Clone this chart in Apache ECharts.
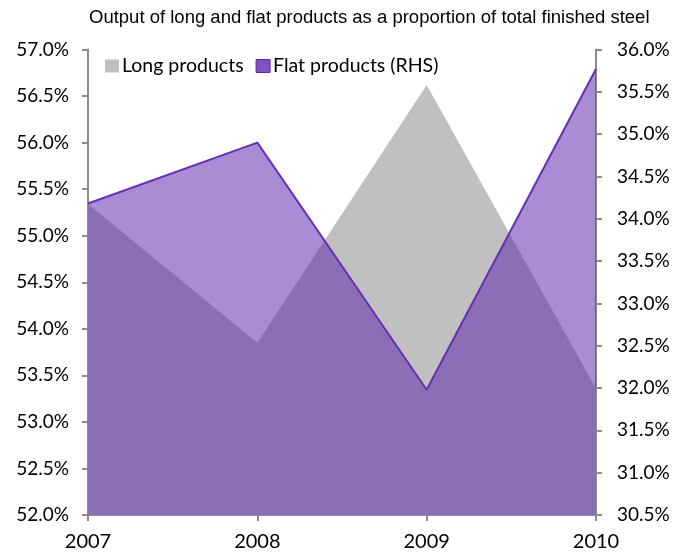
<!DOCTYPE html>
<html>
<head>
<meta charset="utf-8">
<script src="https://cdn.jsdelivr.net/npm/echarts@6/dist/echarts.min.js"></script>
<style>
  html, body { margin: 0; padding: 0; background: #fff; }
  #chart { width: 687px; height: 558px; }
</style>
</head>
<body>
<div id="chart"></div>
<script>
// Share of finished steel output, by product type
const years = ['2007', '2008', '2009', '2010'];
const longProducts = [55.34, 53.85, 56.62, 53.36];   // % of total, left axis
const flatProducts = [34.18, 34.90, 31.98, 35.77];   // % of total, right axis (RHS)
const leftTicks = { min: 52.0, max: 57.0, step: 0.5 };
const rightTicks = { min: 30.5, max: 36.0, step: 0.5 };

const labelFont = 'Lato, "Open Sans", sans-serif';
const axisGrey = '#8c8c8c';
const pct = v => v.toFixed(1) + '%';

const chart = echarts.init(document.getElementById('chart'), null, { renderer: 'canvas' });
chart.setOption({
  animation: false,
  backgroundColor: '#ffffff',
  title: {
    text: 'Output of long and flat products as a proportion of total finished steel',
    left: 84,
    top: 3,
    textStyle: { fontFamily: '"Liberation Sans", Arial, sans-serif', fontSize: 18.5, fontWeight: 'normal', color: '#000' }
  },
  legend: {
    left: 100,
    top: 51,
    itemWidth: 14,
    itemHeight: 13,
    itemGap: 12,
    icon: 'rect',
    textStyle: { fontFamily: labelFont, fontSize: 19.5, color: '#000', padding: [0, 0, 0, -2] },
    data: [
      { name: 'Long products', itemStyle: { color: '#c0c0c0' } },
      { name: 'Flat products (RHS)', itemStyle: { color: '#7d52c2', borderColor: '#5a2aa8', borderWidth: 1 } }
    ]
  },
  grid: { left: 88, right: 91, top: 49.5, bottom: 43 },
  xAxis: {
    type: 'category',
    data: years,
    boundaryGap: false,
    axisLine: { lineStyle: { color: axisGrey, width: 2 } },
    axisTick: { alignWithLabel: true, length: 6, lineStyle: { color: axisGrey, width: 2 } },
    axisLabel: { fontFamily: labelFont, fontSize: 20, color: '#000', margin: 17 },
    splitLine: { show: false }
  },
  yAxis: [
    {
      type: 'value',
      position: 'left',
      min: leftTicks.min,
      max: leftTicks.max,
      interval: leftTicks.step,
      axisLine: { show: true, lineStyle: { color: axisGrey, width: 2 } },
      axisTick: { show: true, length: 6, lineStyle: { color: axisGrey, width: 2 } },
      axisLabel: { formatter: pct, fontFamily: labelFont, fontSize: 19, color: '#000', margin: 19 },
      splitLine: { show: false }
    },
    {
      type: 'value',
      position: 'right',
      min: rightTicks.min,
      max: rightTicks.max,
      interval: rightTicks.step,
      axisLine: { show: true, lineStyle: { color: axisGrey, width: 2 } },
      axisTick: { show: true, length: 6, lineStyle: { color: axisGrey, width: 2 } },
      axisLabel: { formatter: pct, fontFamily: labelFont, fontSize: 19, color: '#000', margin: 21 },
      splitLine: { show: false }
    }
  ],
  series: [
    {
      name: 'Long products',
      type: 'line',
      yAxisIndex: 0,
      data: longProducts,
      showSymbol: false,
      lineStyle: { width: 0, color: '#c0c0c0' },
      itemStyle: { color: '#c0c0c0' },
      areaStyle: { color: '#c0c0c0', opacity: 1, origin: 'start' },
      z: 1
    },
    {
      name: 'Flat products (RHS)',
      type: 'line',
      yAxisIndex: 1,
      data: flatProducts,
      showSymbol: false,
      lineStyle: { width: 2, color: '#6a2fb0' },
      itemStyle: { color: '#6a2fb0' },
      areaStyle: { color: 'rgba(88, 34, 172, 0.52)', opacity: 1, origin: 'start' },
      z: 2
    }
  ]
});
</script>
</body>
</html>
